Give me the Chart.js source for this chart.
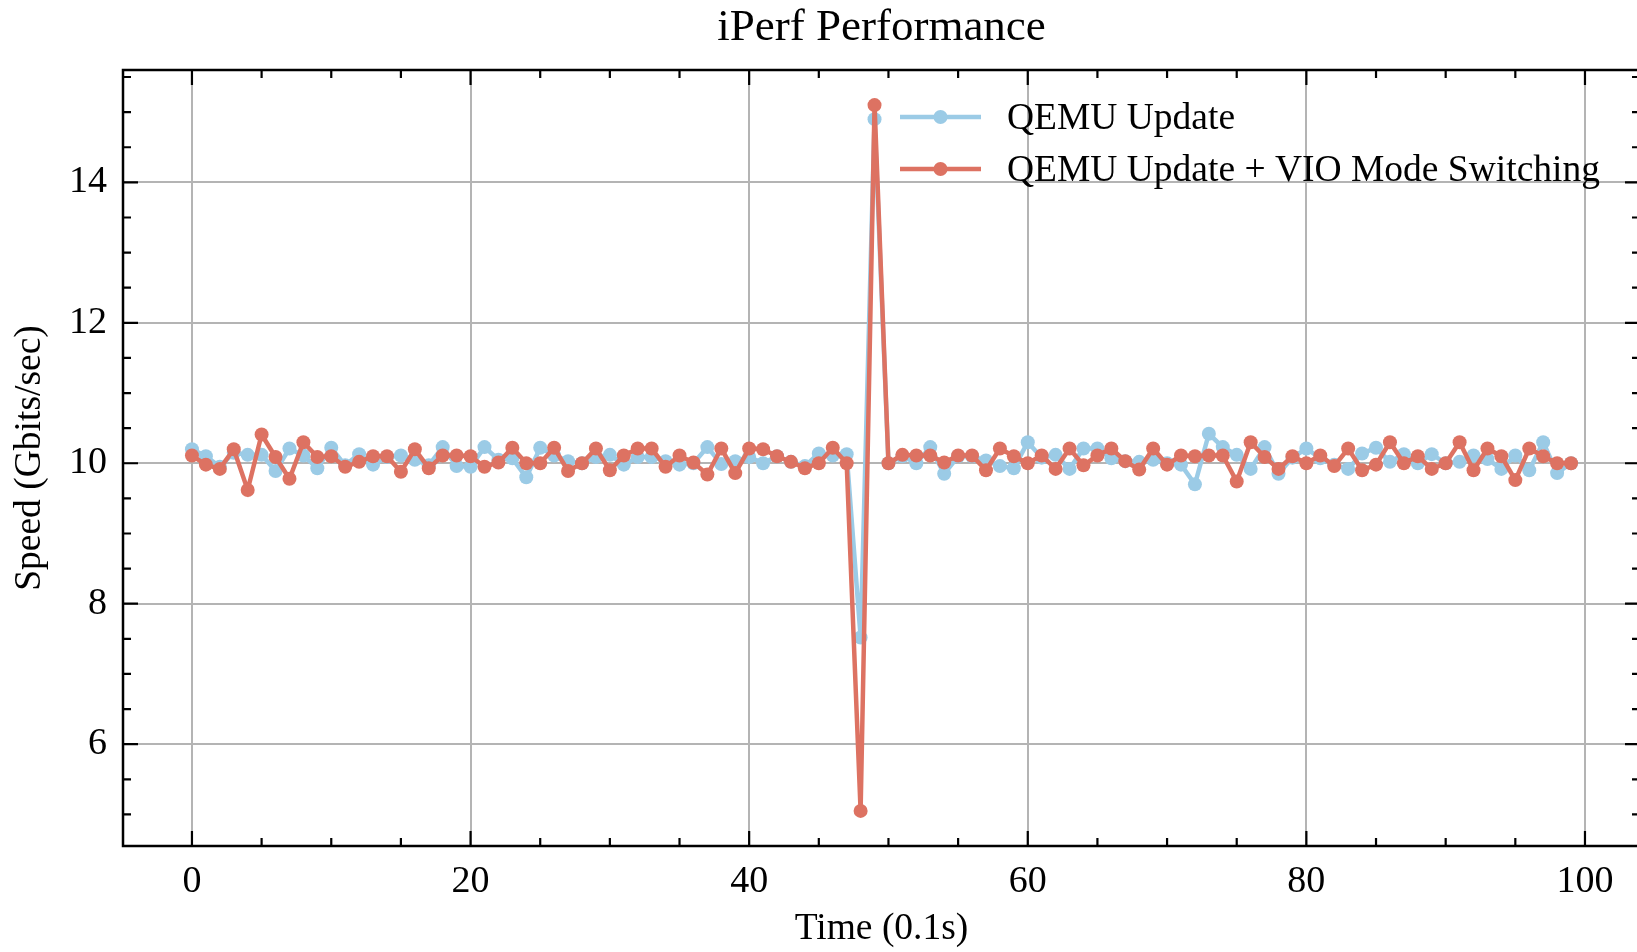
<!DOCTYPE html>
<html>
<head>
<meta charset="utf-8">
<title>iPerf Performance</title>
<script src="https://cdn.jsdelivr.net/npm/chart.js@4"></script>
<style>
  html, body { margin: 0; padding: 0; background: #fff; overflow: hidden; }
  canvas { display: block; }
</style>
</head>
<body>
<canvas id="myChart" width="1647" height="952"></canvas>
<script>
/* DATA */
const timeSteps = Array.from({ length: 100 }, (_, i) => i);

const qemuUpdate = [
  10.2, 10.1, 9.95, 10.15, 10.12, 10.12, 9.89, 10.21, 10.11, 9.93,
  10.22, 9.97, 10.13, 9.98, 10.09, 10.11, 10.05, 9.97, 10.23, 9.96,
  9.95, 10.23, 10.05, 10.07, 9.8, 10.22, 10.11, 10.03, 10.0, 10.09,
  10.12, 9.98, 10.09, 10.09, 10.03, 9.98, 10.0, 10.23, 9.99, 10.03,
  10.09, 10.0, 10.1, 10.02, 9.96, 10.14, 10.11, 10.13, 7.52, 14.9,
  10.0, 10.1, 10.0, 10.23, 9.85, 10.1, 10.1, 10.04, 9.96, 9.93,
  10.3, 10.08, 10.12, 9.92, 10.21, 10.21, 10.07, 10.03, 10.02, 10.05,
  10.0, 9.98, 9.7, 10.42, 10.23, 10.12, 9.92, 10.23, 9.85, 10.08,
  10.21, 10.07, 9.98, 9.92, 10.14, 10.22, 10.02, 10.13, 10.0, 10.13,
  10.0, 10.02, 10.11, 10.06, 9.92, 10.11, 9.9, 10.3, 9.86, 10.0
];

const qemuUpdateVio = [
  10.11, 9.98, 9.92, 10.2, 9.62, 10.41, 10.09, 9.78, 10.3, 10.09,
  10.1, 9.95, 10.02, 10.1, 10.1, 9.88, 10.2, 9.93, 10.11, 10.11,
  10.1, 9.95, 10.01, 10.22, 10.0, 10.0, 10.22, 9.89, 10.0, 10.21,
  9.9, 10.11, 10.21, 10.21, 9.95, 10.11, 10.01, 9.84, 10.21, 9.86,
  10.21, 10.2, 10.1, 10.02, 9.93, 10.0, 10.22, 10.0, 5.05, 15.1,
  10.0, 10.12, 10.11, 10.11, 10.01, 10.11, 10.11, 9.9, 10.21, 10.1,
  10.0, 10.11, 9.92, 10.21, 9.97, 10.11, 10.21, 10.03, 9.91, 10.21,
  9.98, 10.11, 10.1, 10.11, 10.11, 9.74, 10.3, 10.09, 9.92, 10.1,
  10.0, 10.11, 9.96, 10.21, 9.9, 9.98, 10.3, 10.0, 10.1, 9.92,
  10.0, 10.3, 9.9, 10.21, 10.1, 9.76, 10.21, 10.1, 10.0, 10.0
];

const xTicks = [0, 20, 40, 60, 80, 100];
const yTicks = [6, 8, 10, 12, 14];
const xMinorStep = 5;
const yMinorStep = 0.5;

const seriesNames = ['QEMU Update', 'QEMU Update + VIO Mode Switching'];
const seriesColors = ['#9bcbe6', '#dd7262'];

const SERIF = '"Liberation Serif", "DejaVu Serif", serif';
Chart.defaults.font.family = SERIF;
Chart.defaults.color = '#000';


/* frame, inward ticks, title and legend drawn like matplotlib */
const framePlugin = {
  id: 'frame',
  afterDraw(chart) {
    const ctx = chart.ctx;
    const area = chart.chartArea;
    const xs = chart.scales.x;
    const ys = chart.scales.y;

    ctx.save();
    ctx.strokeStyle = '#000';
    ctx.lineWidth = 2.5;
    ctx.strokeRect(area.left, area.top, area.right - area.left, area.bottom - area.top);

    const drawXTick = (v, len) => {
      const px = xs.getPixelForValue(v);
      ctx.beginPath();
      ctx.moveTo(px, area.bottom); ctx.lineTo(px, area.bottom - len);
      ctx.moveTo(px, area.top); ctx.lineTo(px, area.top + len);
      ctx.stroke();
    };
    const drawYTick = (v, len) => {
      const py = ys.getPixelForValue(v);
      ctx.beginPath();
      ctx.moveTo(area.left, py); ctx.lineTo(area.left + len, py);
      ctx.moveTo(area.right, py); ctx.lineTo(area.right - len, py);
      ctx.stroke();
    };

    ctx.lineWidth = 2.2;
    for (let v = Math.ceil(xs.min / xMinorStep) * xMinorStep; v <= xs.max; v += xMinorStep) {
      drawXTick(v, xTicks.includes(v) ? 15 : 8);
    }
    for (let v = Math.ceil(ys.min / yMinorStep) * yMinorStep; v <= ys.max; v += yMinorStep) {
      const isMajor = yTicks.some(t => Math.abs(t - v) < 1e-6);
      drawYTick(v, isMajor ? 15 : 8);
    }

    // title
    ctx.fillStyle = '#000';
    ctx.textAlign = 'center';
    ctx.textBaseline = 'middle';
    ctx.font = '45px ' + SERIF;
    ctx.fillText('iPerf Performance', (area.left + area.right) / 2, 28);

    // legend
    ctx.textAlign = 'left';
    ctx.font = '37.5px ' + SERIF;
    chart.data.datasets.forEach((ds, i) => {
      const y = 117 + i * 52;
      ctx.strokeStyle = ds.borderColor;
      ctx.lineWidth = ds.borderWidth;
      ctx.beginPath();
      ctx.moveTo(900, y); ctx.lineTo(981, y);
      ctx.stroke();
      ctx.fillStyle = ds.borderColor;
      ctx.beginPath();
      ctx.arc(940.5, y, ds.pointRadius, 0, Math.PI * 2);
      ctx.fill();
      ctx.fillStyle = '#000';
      ctx.fillText(ds.label, 1007, y + 2);
    });
    ctx.restore();
  }
};


/* CHART */
const ctx = document.getElementById('myChart');

new Chart(ctx, {
  type: 'line',
  data: {
    labels: timeSteps,
    datasets: [
      {
        label: seriesNames[0],
        data: qemuUpdate,
        borderColor: seriesColors[0],
        backgroundColor: seriesColors[0],
        pointBackgroundColor: seriesColors[0],
        borderWidth: 4.5,
        pointRadius: 7,
        pointBorderWidth: 0,
        tension: 0,
        order: 2
      },
      {
        label: seriesNames[1],
        data: qemuUpdateVio,
        borderColor: seriesColors[1],
        backgroundColor: seriesColors[1],
        pointBackgroundColor: seriesColors[1],
        borderWidth: 4.5,
        pointRadius: 7,
        pointBorderWidth: 0,
        tension: 0,
        order: 1
      }
    ]
  },
  options: {
    responsive: false,
    animation: false,
    devicePixelRatio: 1,
    layout: { padding: { top: 70, right: 0, left: 0, bottom: 0 } },
    plugins: {
      legend: { display: false },
      title: { display: false },
      tooltip: { enabled: false }
    },
    scales: {
      x: {
        type: 'linear',
        min: -4.95,
        max: 103.95,
        afterBuildTicks: s => { s.ticks = xTicks.map(v => ({ value: v })); },
        afterFit: s => { s.height = 106; },
        grid: { color: '#b4b4b4', lineWidth: 2, drawTicks: false },
        border: { display: false },
        ticks: { padding: 13, font: { size: 38 }, maxRotation: 0 },
        title: { display: true, text: 'Time (0.1s)', font: { size: 37.5 }, padding: { top: 0, bottom: 0 } }
      },
      y: {
        type: 'linear',
        min: 4.55,
        max: 15.6,
        afterBuildTicks: s => { s.ticks = yTicks.map(v => ({ value: v })); },
        afterFit: s => { s.width = 123; },
        grid: { color: '#b4b4b4', lineWidth: 2, drawTicks: false },
        border: { display: false },
        ticks: { padding: 16, font: { size: 38 } },
        title: { display: true, text: 'Speed (Gbits/sec)', font: { size: 37.5 }, padding: { top: 8, bottom: 0 } }
      }
    }
  },
  plugins: [framePlugin]
});
</script>
</body>
</html>
